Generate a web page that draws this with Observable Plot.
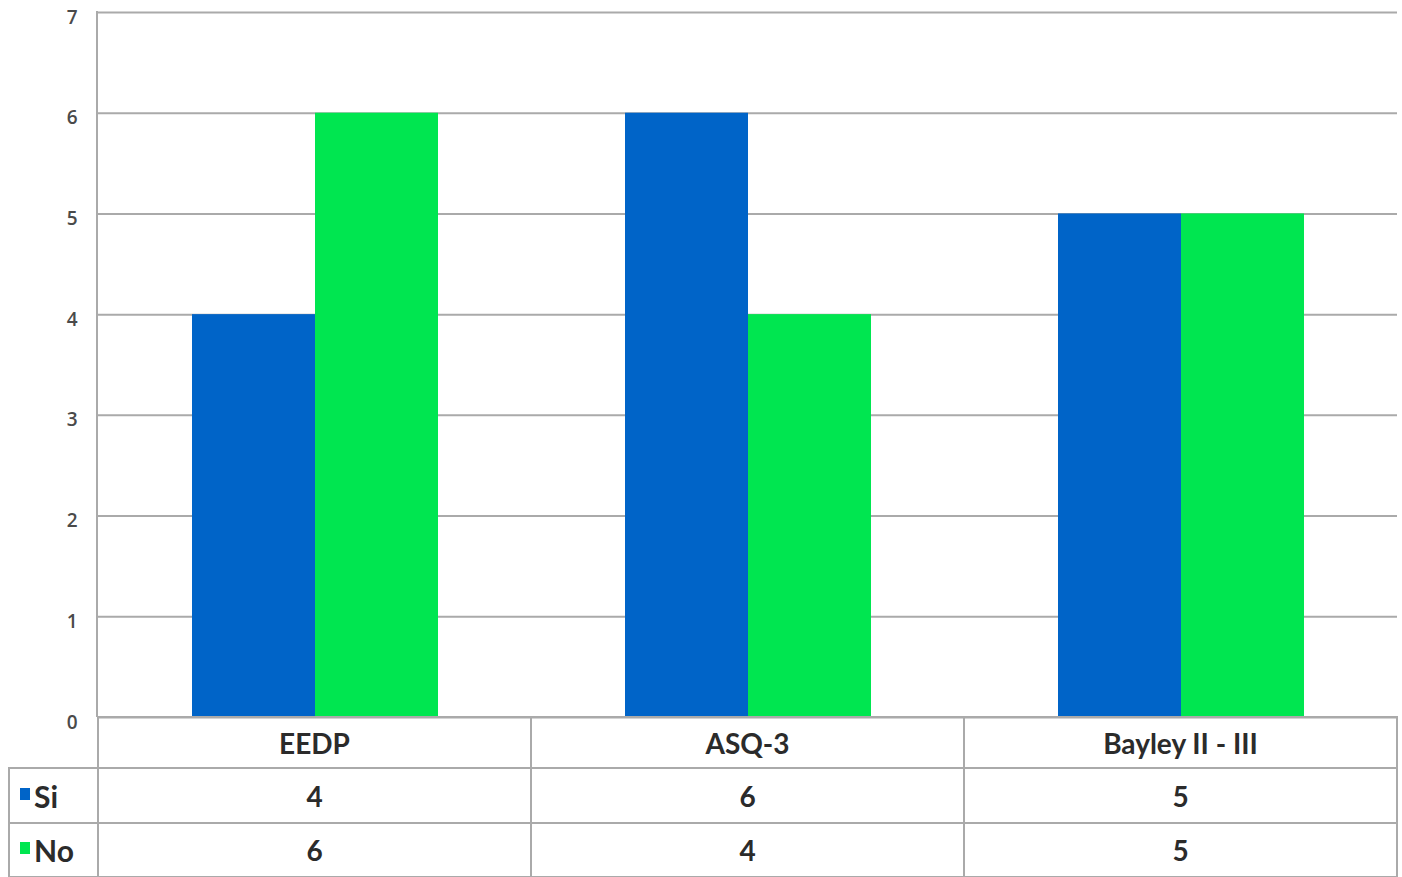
<!DOCTYPE html>
<html>
<head>
<meta charset="utf-8">
<script src="https://cdn.jsdelivr.net/npm/d3@7"></script>
<script src="https://cdn.jsdelivr.net/npm/@observablehq/plot@0.6"></script>
<style>
  body { margin: 0; background: #fff; }
  #wrap { position: relative; width: 1402px; height: 877px; overflow: hidden; }
  #chart { position: absolute; left: 0; top: 0; }
  #leftline { position: absolute; left: 96px; top: 11px; width: 2px; height: 706px; background: #aaa; }
  table { position: absolute; left: 8px; top: 716px; border-collapse: collapse; font-family: Lato, "Open Sans", sans-serif; font-weight: 700; color: #2b2b2b; }
  td { border: 2px solid #aaa; text-align: center; vertical-align: middle; padding: 0; font-size: 28px; }
  td.first { width: 87px; text-align: left; font-size: 30px; }
  td.blank { border-top: none; border-left: none; }
  td.cat { width: 431px; }
  .sw { display: inline-block; width: 10px; height: 12px; margin: 0 4px 0 10px; vertical-align: 8px; }
</style>
</head>
<body>
<div id="wrap">
  <div id="chart"></div>
  <div id="leftline"></div>
  <table id="tbl"></table>
</div>
<script>
const categories = ["EEDP", "ASQ-3", "Bayley II - III"];
const seriesNames = ["Si", "No"];
const siValues = [4, 6, 5];
const noValues = [6, 4, 5];
const yTicks = [0, 1, 2, 3, 4, 5, 6, 7];
const colors = ["#0064c8", "#00e650"];

const rows = [];
categories.forEach((c, i) => {
  rows.push({category: c, series: "Si", value: siValues[i]});
  rows.push({category: c, series: "No", value: noValues[i]});
});

const plot = Plot.plot({
  width: 1402,
  height: 745,
  marginLeft: 97,
  marginRight: 5,
  marginTop: 12,
  marginBottom: 28,
  fx: {domain: categories, padding: 0, axis: null},
  x: {domain: seriesNames, paddingInner: 0, paddingOuter: 0.76, axis: null},
  y: {domain: [0, 7], axis: null},
  color: {domain: seriesNames, range: colors},
  marks: [
    Plot.ruleY(yTicks, {y: d => d, stroke: "#aaa", strokeWidth: 2}),
    Plot.barY(rows, {fx: "category", x: "series", y: "value", fill: "series"}),
    Plot.axisY({ticks: yTicks, tickSize: 0, tickPadding: 21, fontWeight: 600, fill: "#4a4a4a", dy: 5, label: null, facetAnchor: "left", tickFormat: d => d})
  ],
  style: {fontFamily: "'Open Sans', sans-serif", fontSize: "19px", background: "transparent", overflow: "visible"}
});
document.getElementById("chart").appendChild(plot);

// data table
const tbl = document.getElementById("tbl");
let html = '<tr style="height:51px"><td class="first blank"></td>' + categories.map(c => `<td class="cat">${c}</td>`).join("") + '</tr>';
const seriesVals = [siValues, noValues];
seriesNames.forEach((s, si) => {
  const h = si === 0 ? 55 : 54;
  html += `<tr style="height:${h}px"><td class="first"><span class="sw" style="background:${colors[si]}"></span>${s}</td>` +
    seriesVals[si].map(v => `<td class="cat">${v}</td>`).join("") + '</tr>';
});
tbl.innerHTML = html;
</script>
</body>
</html>
